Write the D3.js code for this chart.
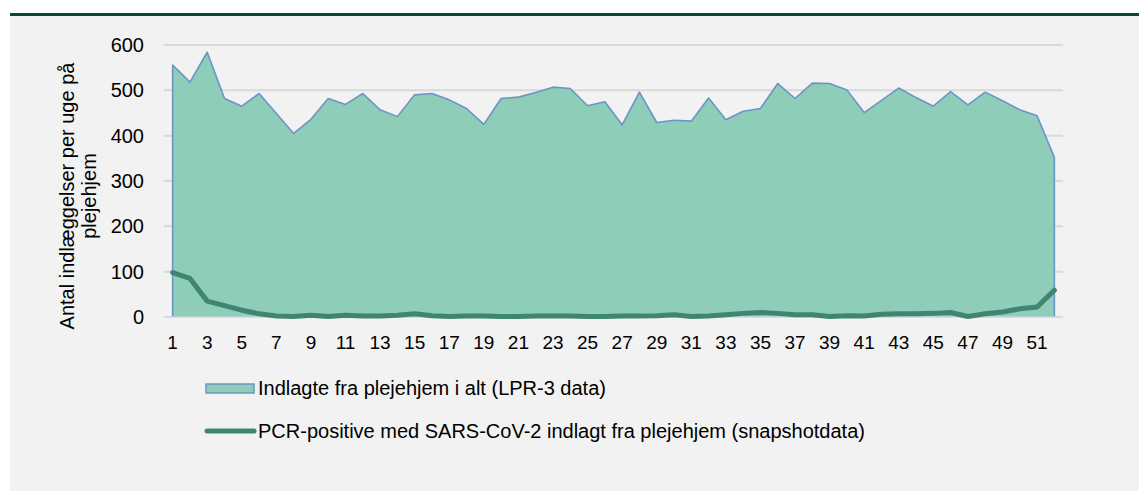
<!DOCTYPE html>
<html>
<head>
<meta charset="utf-8">
<script src="https://cdn.jsdelivr.net/npm/d3@7"></script>
<style>
  body { margin: 0; background: #fff; }
  svg text { font-family: "Liberation Sans", Arial, sans-serif; fill: #000; }
</style>
</head>
<body>
<div id="chart"></div>
<script>
// weeks 1..52
var weeks = d3.range(1, 53);

// Indlagte fra plejehjem i alt (LPR-3 data)
var totalAdmissions = [556, 518, 584, 482, 465, 493, 449, 405, 436, 482,
  469, 493, 457, 442, 490, 493, 479, 460, 425, 482,
  485, 495, 507, 504, 466, 475, 424, 496, 429, 434,
  432, 483, 435, 454, 460, 515, 482, 516, 515, 501,
  451, 478, 505, 484, 465, 497, 468, 496, 477, 457,
  444, 352];

// PCR-positive med SARS-CoV-2 indlagt fra plejehjem (snapshotdata)
var pcrPositive = [98, 85, 35, 25, 15, 7, 2, 1, 4, 1,
  4, 2, 2, 4, 7, 3, 1, 2, 2, 1,
  1, 2, 2, 2, 1, 1, 2, 2, 3, 5,
  1, 2, 5, 8, 10, 8, 5, 5, 1, 3,
  2, 6, 7, 7, 8, 10, 1, 7, 11, 18,
  22, 59];

var yTicks = [0, 100, 200, 300, 400, 500, 600];
var legendLabels = [
  "Indlagte fra plejehjem i alt (LPR-3 data)",
  "PCR-positive med SARS-CoV-2 indlagt fra plejehjem (snapshotdata)"
];

var svgWidth = 1139, svgHeight = 491;
var margin = { top: 45, left: 164, right: 76 };
var width = 1063 - margin.left;
var height = 317 - margin.top;

var svg = d3.select("#chart").append("svg")
  .attr("width", svgWidth)
  .attr("height", svgHeight);

// panel background + top bar
svg.append("rect").attr("x", 10).attr("y", 13).attr("width", svgWidth - 10).attr("height", svgHeight - 13).attr("fill", "#f2f2f2");
svg.append("rect").attr("x", 10).attr("y", 13).attr("width", svgWidth - 10).attr("height", 3).attr("fill", "#0b4536");

var g = svg.append("g").attr("transform", `translate(${margin.left}, ${margin.top})`);

var x = d3.scaleBand().domain(weeks).range([0, width]);
var xc = d => x(d) + x.bandwidth() / 2;
var y = d3.scaleLinear().domain([0, 600]).range([height, 0]);

// gridlines
g.selectAll(".grid")
  .data(yTicks.filter(d => d > 0))
  .enter().append("line")
  .attr("x1", 0).attr("x2", width)
  .attr("y1", d => y(d)).attr("y2", d => y(d))
  .attr("stroke", "#d9d9d9").attr("stroke-width", 2);

// area
var area = d3.area()
  .x((d, i) => xc(weeks[i]))
  .y0(y(0))
  .y1(d => y(d));

g.append("path")
  .datum(totalAdmissions)
  .attr("d", area)
  .attr("fill", "#8ecdb8");

var outline = d3.line()
  .x(d => d[0])
  .y(d => d[1]);
var outlinePts = [[xc(1), y(0)]]
  .concat(totalAdmissions.map((d, i) => [xc(weeks[i]), y(d)]))
  .concat([[xc(52), y(0)]]);
g.append("path")
  .attr("d", outline(outlinePts))
  .attr("fill", "none")
  .attr("stroke", "#6c94c4")
  .attr("stroke-width", 1.6)
  .attr("stroke-linejoin", "round");

// x axis base line
g.append("line")
  .attr("x1", 0).attr("x2", width)
  .attr("y1", y(0)).attr("y2", y(0))
  .attr("stroke", "#c9d3df").attr("stroke-width", 1.5);

// PCR line
var line = d3.line()
  .x((d, i) => xc(weeks[i]))
  .y(d => y(d));
g.append("path")
  .datum(pcrPositive)
  .attr("d", line)
  .attr("fill", "none")
  .attr("stroke", "#3f8572")
  .attr("stroke-width", 5)
  .attr("stroke-linejoin", "round")
  .attr("stroke-linecap", "round");

// axes
var yAxis = g.append("g")
  .call(d3.axisLeft(y).tickValues(yTicks).tickSize(0).tickPadding(20));
yAxis.select(".domain").remove();
yAxis.selectAll("text").attr("font-size", 20).attr("font-family", "Liberation Sans, Arial, sans-serif").attr("fill", "#000");

var xAxis = g.append("g")
  .attr("transform", `translate(0, ${height})`)
  .call(d3.axisBottom(x).tickValues(weeks.filter(d => d % 2 === 1)).tickSize(0).tickPadding(19));
xAxis.select(".domain").remove();
xAxis.selectAll("text").attr("font-size", 19).attr("font-family", "Liberation Sans, Arial, sans-serif").attr("fill", "#000");

// y axis title
var yTitle = svg.append("text")
  .attr("transform", "translate(67, 196) rotate(-90)")
  .attr("text-anchor", "middle")
  .attr("font-size", 20);
yTitle.append("tspan").attr("x", 0).attr("dy", "0.35em").text("Antal indlæggelser per uge på");
yTitle.append("tspan").attr("x", 0).attr("dy", "1.1em").text("plejehjem");

// legend
var leg = svg.append("g");
leg.append("rect")
  .attr("x", 206).attr("y", 384).attr("width", 48).attr("height", 9)
  .attr("fill", "#8ecdb8").attr("stroke", "#6c94c4").attr("stroke-width", 1.5);
leg.append("text").attr("x", 258).attr("y", 388).attr("dy", "0.35em")
  .attr("font-size", 20).text(legendLabels[0]);
leg.append("line")
  .attr("x1", 207).attr("x2", 254).attr("y1", 431).attr("y2", 431)
  .attr("stroke", "#3f8572").attr("stroke-width", 5).attr("stroke-linecap", "round");
leg.append("text").attr("x", 258).attr("y", 431).attr("dy", "0.35em")
  .attr("font-size", 20).text(legendLabels[1]);
</script>
</body>
</html>
